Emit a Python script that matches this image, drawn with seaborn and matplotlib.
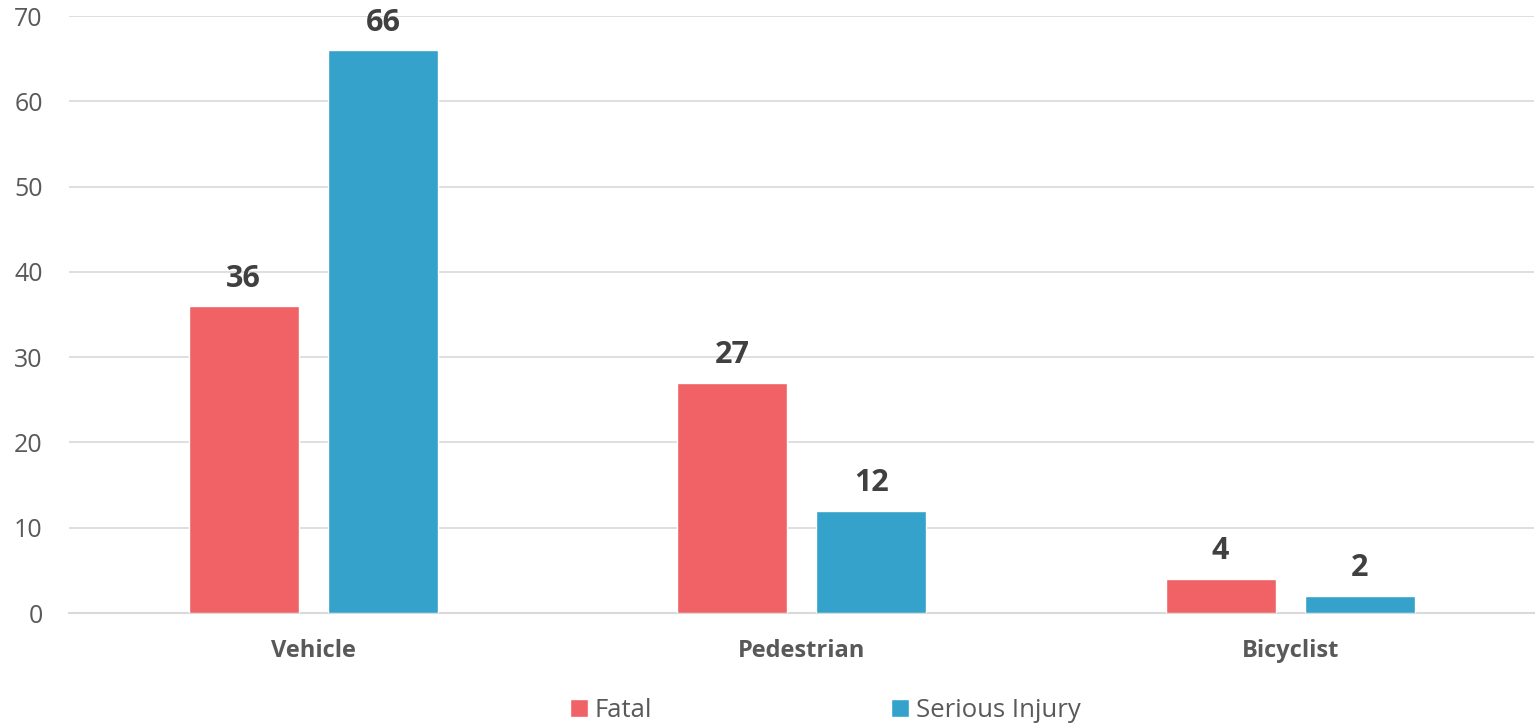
import seaborn as sns
import matplotlib.pyplot as plt
import pandas as pd

sns.set_theme(style="white")
plt.rcParams['font.family'] = ['Open Sans', 'DejaVu Sans']

# data
categories = ['Vehicle', 'Pedestrian', 'Bicyclist']
fatal = [36, 27, 4]
serious = [66, 12, 2]

df = pd.DataFrame({
    'category': categories * 2,
    'type': ['Fatal'] * 3 + ['Serious Injury'] * 3,
    'count': fatal + serious,
})

fig = plt.figure(figsize=(15.36, 7.26), dpi=100)
ax = fig.add_axes([0.045, 0.1556, 0.954, 0.8223])

palette = {'Fatal': '#F06266', 'Serious Injury': '#35A2CB'}
sns.barplot(data=df, x='category', y='count', hue='type', palette=palette,
            width=0.57, gap=0.21, saturation=1, ax=ax, zorder=3)

for c in ax.containers:
    ax.bar_label(c, labels=[f'{v:.0f}' for v in c.datavalues], padding=9,
                 fontsize=22, fontweight='bold', color='#404040')

ax.set_ylim(0, 70)
ax.set_xlim(-0.5, 2.5)
ax.set_yticks(range(0, 71, 10))
ax.yaxis.grid(True, color='#D9D9D9', linewidth=1.2, zorder=0)
ax.set_axisbelow(True)
for s in ['top', 'right', 'left']:
    ax.spines[s].set_visible(False)
ax.spines['bottom'].set_color('#D9D9D9')
ax.spines['bottom'].set_linewidth(1.5)
ax.tick_params(axis='y', length=0, labelsize=18, labelcolor='#595959', pad=19)
ax.tick_params(axis='x', length=0, labelsize=17, labelcolor='#595959', pad=19)
for t in ax.get_xticklabels():
    t.set_fontweight('bold')
ax.set_xlabel('')
ax.set_ylabel('')

leg = ax.legend(loc='center', bbox_to_anchor=(0.516, -0.1625), ncol=2,
                frameon=False, fontsize=18.5, handlelength=0.7, handleheight=0.7,
                handletextpad=0.25, columnspacing=9.3)
for t in leg.get_texts():
    t.set_color('#595959')

fig.savefig('out.png', dpi=100)
